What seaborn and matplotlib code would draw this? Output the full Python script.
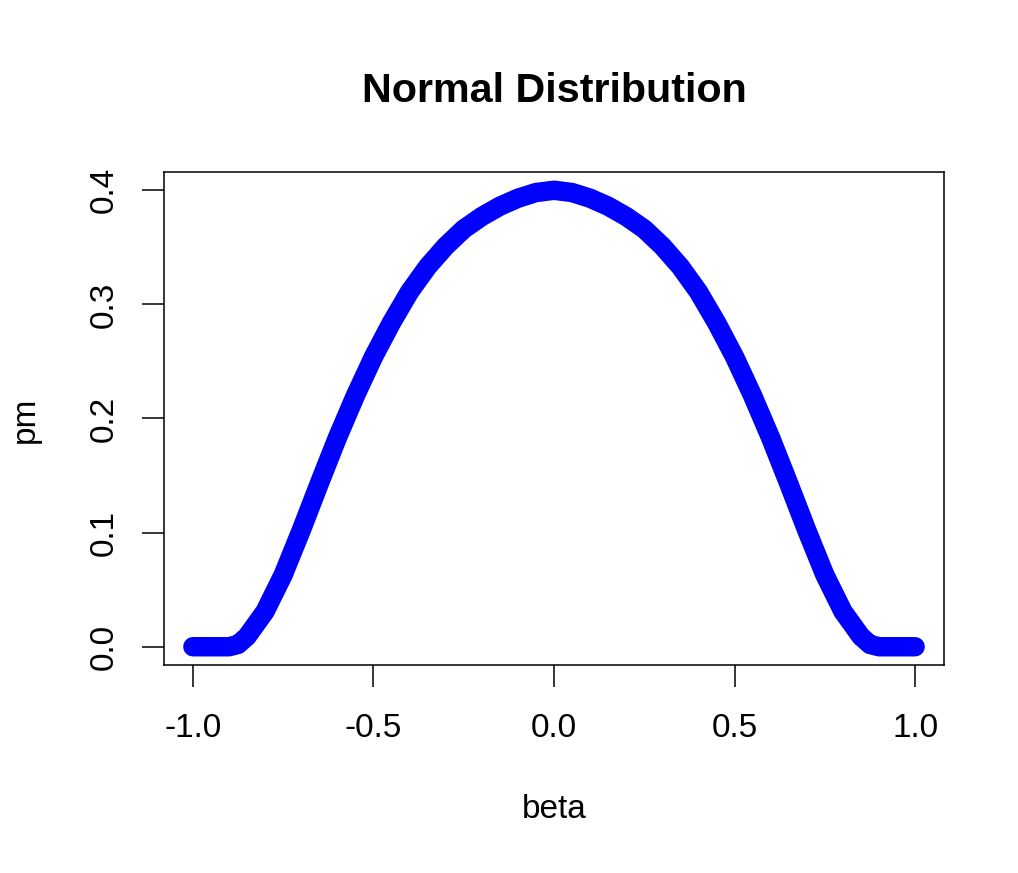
import matplotlib
matplotlib.use("Agg")
import matplotlib.pyplot as plt
import seaborn as sns
import pandas as pd

# ---- data ----
beta = [-1.00, -0.95, -0.90, -0.875, -0.85, -0.80, -0.75, -0.70, -0.65, -0.60,
        -0.55, -0.50, -0.45, -0.40, -0.35, -0.30, -0.25, -0.20, -0.15, -0.10,
        -0.05, 0.00, 0.05, 0.10, 0.15, 0.20, 0.25, 0.30, 0.35, 0.40,
        0.45, 0.50, 0.55, 0.60, 0.65, 0.70, 0.75, 0.80, 0.85, 0.875,
        0.90, 0.95, 1.00]
pm = [0.000, 0.000, 0.000, 0.002, 0.009, 0.031, 0.063, 0.102, 0.143, 0.183,
      0.220, 0.254, 0.284, 0.311, 0.333, 0.351, 0.366, 0.377, 0.386, 0.393,
      0.398, 0.400, 0.398, 0.393, 0.386, 0.377, 0.366, 0.351, 0.333, 0.311,
      0.284, 0.254, 0.220, 0.183, 0.143, 0.102, 0.063, 0.031, 0.009, 0.002,
      0.000, 0.000, 0.000]
x_ticks = [-1.0, -0.5, 0.0, 0.5, 1.0]
x_tick_labels = ["-1.0", "-0.5", "0.0", "0.5", "1.0"]
y_ticks = [0.0, 0.1, 0.2, 0.3, 0.4]
y_tick_labels = ["0.0", "0.1", "0.2", "0.3", "0.4"]
title = "Normal Distribution"
x_label = "beta"
y_label = "pm"

df = pd.DataFrame({"beta": beta, "pm": pm})

sns.set_style("white")
plt.rcParams["font.family"] = ["Liberation Sans", "DejaVu Sans"]
plt.rcParams["text.color"] = "black"

W, H = 1018, 873
fig = plt.figure(figsize=(W / 100, H / 100), dpi=100)
L, R, T, B = 164, 944, 172, 665
ax = fig.add_axes([L / W, 1 - B / H, (R - L) / W, (B - T) / H])

sns.lineplot(data=df, x="beta", y="pm", ax=ax, color="#0000ff",
             linewidth=14, solid_capstyle="round", solid_joinstyle="round",
             sort=False)

ax.set_xlim(-1.08, 1.08)
ax.set_ylim(-0.016, 0.416)
ax.set_xticks(x_ticks)
ax.set_xticklabels(x_tick_labels)
ax.set_yticks(y_ticks)
ax.set_yticklabels(y_tick_labels, rotation=90, va="center")

for s in ax.spines.values():
    s.set_visible(True)
    s.set_color("black")
    s.set_linewidth(1.1)

ax.tick_params(axis="both", direction="out", length=15.8, width=1.1,
               colors="black", labelcolor="black", labelsize=24,
               left=True, bottom=True)
ax.tick_params(axis="x", pad=19)
ax.tick_params(axis="y", pad=16)

ax.set_xlabel("")
ax.set_ylabel("")
fig.text(554 / W, 1 - 810 / H, x_label, ha="center", va="center",
         fontsize=24, color="black")
fig.text(25 / W, 1 - 420 / H, y_label, ha="center", va="center",
         fontsize=24, rotation=90, color="black")
fig.text(554 / W, 1 - 91 / H, title, ha="center", va="center",
         fontsize=29.7, fontweight="bold", color="black")

fig.savefig("out.png", dpi=100, facecolor="white")
